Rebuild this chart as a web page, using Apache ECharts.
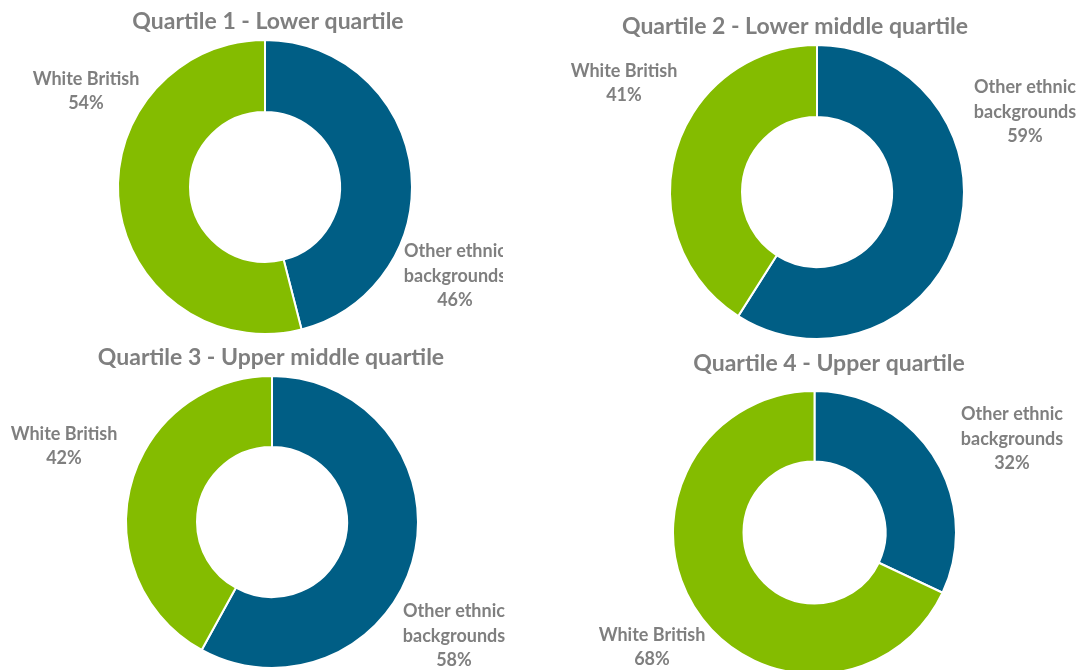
<!DOCTYPE html>
<html>
<head>
<meta charset="utf-8">
<title>Ethnicity by pay quartile</title>
<script src="https://cdn.jsdelivr.net/npm/echarts@6/dist/echarts.min.js"></script>
<style>
  html, body { margin: 0; padding: 0; background: #ffffff; }
  #wrap { position: relative; width: 1080px; height: 670px; overflow: hidden; }
  .panel { position: absolute; overflow: hidden; }
</style>
</head>
<body>
<div id="wrap">
  <div class="panel" id="q1" style="left:0;top:0;width:503px;height:345px"></div>
  <div class="panel" id="q2" style="left:540px;top:0;width:540px;height:345px"></div>
  <div class="panel" id="q3" style="left:0;top:345px;width:505px;height:325px"></div>
  <div class="panel" id="q4" style="left:540px;top:345px;width:540px;height:325px"></div>
</div>
<script>
// Pay quartile titles and the two ethnicity groups
const quartileTitles = [
  'Quartile 1 - Lower quartile',
  'Quartile 2 - Lower middle quartile',
  'Quartile 3 - Upper middle quartile',
  'Quartile 4 - Upper quartile'
];
const groupNames = ['Other ethnic backgrounds', 'White British'];
const groupLabels = ['Other ethnic\nbackgrounds', 'White British'];

// Share of each quartile (%)
const otherEthnic = [46, 59, 58, 32];
const whiteBritish = [54, 41, 42, 68];

const COLORS = ['#005E85', '#84BC00'];
const TEXT = '#7F7F7F';
const FONT = 'Lato, "Open Sans", sans-serif';

// Per-panel layout: donut centre/radius, title centre, label anchors (panel px)
const panels = [
  { id: 'q1', center: [265, 187], radius: [75, 147], title: [268, 22],
    labels: [[455, 276], [86, 91]] },
  { id: 'q2', center: [277, 192], radius: [75, 147], title: [255, 27],
    labels: [[485, 112], [84, 83]] },
  { id: 'q3', center: [272, 177], radius: [75, 146], title: [271, 13],
    labels: [[454, 291], [64, 101]] },
  { id: 'q4', center: [274.5, 187.5], radius: [71, 141.5], title: [289, 19],
    labels: [[472, 94], [112, 302]] }
];

panels.forEach((p, i) => {
  const chart = echarts.init(document.getElementById(p.id), null, { renderer: 'canvas' });
  const values = [otherEthnic[i], whiteBritish[i]];
  chart.setOption({
    animation: false,
    title: {
      text: quartileTitles[i],
      left: p.title[0],
      top: p.title[1] - 12,
      textAlign: 'center',
      padding: 0,
      textStyle: { fontFamily: FONT, fontWeight: 'bold', fontSize: 23, color: TEXT }
    },
    series: [{
      type: 'pie',
      center: p.center,
      radius: p.radius,
      startAngle: 90,
      clockwise: true,
      avoidLabelOverlap: false,
      itemStyle: { borderColor: '#ffffff', borderWidth: 2 },
      label: {
        show: true,
        position: 'outside',
        formatter: (d) => groupLabels[d.dataIndex] + '\n' + d.value + '%',
        fontFamily: FONT,
        fontWeight: 'bold',
        fontSize: 18,
        lineHeight: 24.5,
        color: TEXT,
        align: 'center'
      },
      labelLine: { show: false },
      labelLayout: (params) => ({
        x: p.labels[params.dataIndex][0],
        y: p.labels[params.dataIndex][1],
        align: 'center',
        verticalAlign: 'middle'
      }),
      data: values.map((v, k) => ({
        name: groupNames[k],
        value: v,
        itemStyle: { color: COLORS[k] }
      }))
    }]
  });
});
</script>
</body>
</html>
